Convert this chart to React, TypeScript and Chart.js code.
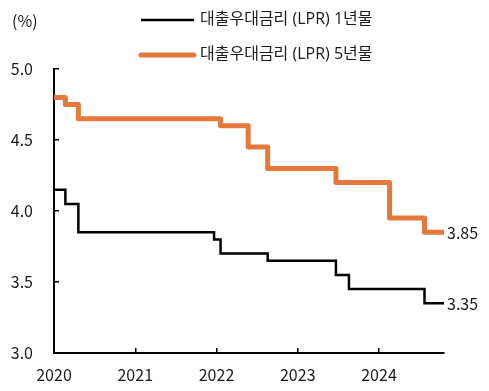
import React, { useEffect, useRef } from "react";
import { Chart, registerables } from "chart.js";

Chart.register(...registerables);

const seriesNames = ["대출우대금리 (LPR) 1년물", "대출우대금리 (LPR) 5년물"];
const dates1Y = [2020.0, 2020.14, 2020.3, 2021.97, 2022.05, 2022.63, 2023.47, 2023.63, 2024.56, 2024.8];
const values1Y = [4.15, 4.05, 3.85, 3.8, 3.7, 3.65, 3.55, 3.45, 3.35, 3.35];
const dates5Y = [2020.0, 2020.14, 2020.3, 2022.05, 2022.39, 2022.63, 2023.47, 2024.13, 2024.56, 2024.8];
const values5Y = [4.8, 4.75, 4.65, 4.6, 4.45, 4.3, 4.2, 3.95, 3.85, 3.85];
const xTickValues = [2020, 2021, 2022, 2023, 2024];
const yTickValues = [3.0, 3.5, 4.0, 4.5, 5.0];
const unitLabel = "(%)";

const FONT = '"Noto Sans CJK KR", "Noto Sans", sans-serif';
const LEGEND_FONT = '"Open Sans", "Noto Sans CJK KR", sans-serif';
const TEXT = "#1a1a1a";
const ORANGE = "#E5793C";

const overlay = {
  id: "overlay",
  afterDraw(chart: any) {
    const ctx = chart.ctx;
    ctx.save();
    ctx.font = `16px ${FONT}`;
    ctx.fillStyle = TEXT;
    ctx.textBaseline = "middle";
    ctx.textAlign = "left";
    ctx.fillText(unitLabel, 12, 21);
    // legend
    const rows = [
      { y: 20, color: "#000", width: 2.5, cap: "butt" },
      { y: 55, color: ORANGE, width: 5, cap: "round" },
    ];
    ctx.font = `16px ${LEGEND_FONT}`;
    rows.forEach((r, i) => {
      ctx.beginPath();
      ctx.strokeStyle = r.color;
      ctx.lineWidth = r.width;
      ctx.lineCap = r.cap;
      ctx.moveTo(141, r.y);
      ctx.lineTo(194, r.y);
      ctx.stroke();
      ctx.fillText(seriesNames[i], 200, r.y - 1);
    });
    // end labels
    ctx.font = `16px ${FONT}`;
    const xs = chart.scales.x;
    const ys = chart.scales.y;
    const ends = [
      { x: dates1Y[dates1Y.length - 1], v: values1Y[values1Y.length - 1] },
      { x: dates5Y[dates5Y.length - 1], v: values5Y[values5Y.length - 1] },
    ];
    ends.forEach((e) => {
      ctx.fillText(e.v.toFixed(2), xs.getPixelForValue(e.x) + 3, ys.getPixelForValue(e.v) + 1);
    });
    ctx.restore();
  },
};

export default function App() {
  const ref = useRef<HTMLCanvasElement>(null);
  useEffect(() => {
    const chart = new Chart(ref.current!, {
      type: "line",
      data: {
        datasets: [
          {
            label: seriesNames[0],
            data: dates1Y.map((d, i) => ({ x: d, y: values1Y[i] })),
            borderColor: "#000",
            borderWidth: 2.5,
            stepped: true,
            pointRadius: 0,
            borderJoinStyle: "miter",
          },
          {
            label: seriesNames[1],
            data: dates5Y.map((d, i) => ({ x: d, y: values5Y[i] })),
            borderColor: ORANGE,
            borderWidth: 5,
            stepped: true,
            pointRadius: 0,
            borderJoinStyle: "round",
            borderCapStyle: "round",
          },
        ],
      },
      options: {
        responsive: false,
        animation: false,
        layout: { padding: { top: 69, right: 45, left: 0, bottom: 0 } },
        plugins: { legend: { display: false }, tooltip: { enabled: false } },
        scales: {
          x: {
            type: "linear",
            min: 2020,
            max: 2024.8,
            afterBuildTicks: (s: any) => {
              s.ticks = xTickValues.map((v) => ({ value: v }));
            },
            afterFit: (s: any) => {
              s.height = 38;
            },
            border: { display: true, color: "#000", width: 2 },
            grid: { drawOnChartArea: false, drawTicks: true, tickLength: -5, color: "#000", lineWidth: 1.5 },
            ticks: {
              padding: 17,
              color: TEXT,
              font: { family: FONT, size: 16 },
              callback: (v: any) => String(v),
              maxRotation: 0,
            },
          },
          y: {
            type: "linear",
            min: 3,
            max: 5,
            afterBuildTicks: (s: any) => {
              s.ticks = yTickValues.map((v) => ({ value: v }));
            },
            afterFit: (s: any) => {
              s.width = 54;
            },
            border: { display: true, color: "#000", width: 2 },
            grid: { drawOnChartArea: false, drawTicks: true, tickLength: -5, color: "#000", lineWidth: 1.5 },
            ticks: {
              padding: 26,
              color: TEXT,
              font: { family: FONT, size: 16 },
              callback: (v: any) => Number(v).toFixed(1),
            },
          },
        },
      },
      plugins: [overlay],
    });
    return () => chart.destroy();
  }, []);
  return (
    <div style={{ position: "fixed", left: 0, top: 0, width: 489, height: 391, background: "#fff" }}>
      <canvas ref={ref} width={489} height={391} style={{ display: "block" }} />
    </div>
  );
}
